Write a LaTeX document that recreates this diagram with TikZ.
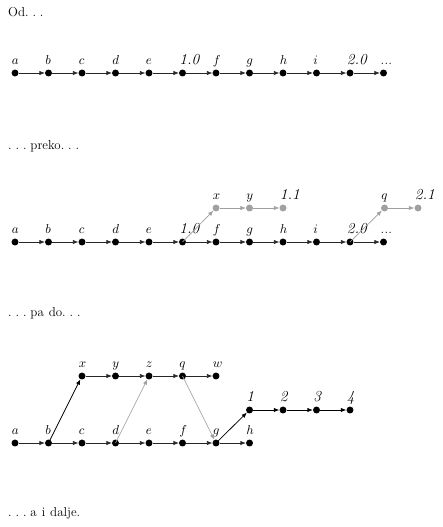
\documentclass[tikz,border=0pt]{standalone}
\usetikzlibrary{arrows.meta}
\definecolor{lg}{RGB}{160,160,160}
\newcommand{\mydots}{\mbox{.\kern3.3pt.\kern3.3pt.\kern3.3pt}}
\newcommand{\nl}[1]{{\fontsize{13}{15}\selectfont\textit{#1}}}
\newcommand{\wsp}{\spaceskip=4.2pt\relax}
\begin{document}
\begin{tikzpicture}[x=0.849pt,y=-0.849pt,
  font=\fontsize{11}{13.5}\selectfont,
  lbl/.style={anchor=base west,inner sep=0pt,outer sep=0pt,xshift=-2.6pt,yshift=6.8pt},
  dot/.style={circle,fill=black,inner sep=0pt,minimum size=5.9pt},
  gdot/.style={dot,fill=lg},
  txt/.style={anchor=west,inner sep=0pt},
  edge/.style={-{Latex[length=4.5pt,width=3.6pt]},line width=0.5pt,draw=black!85},
  bedge/.style={edge,line width=0.65pt,draw=black},
  gedge/.style={edge,draw=lg,fill=lg,line width=0.55pt}]
\useasboundingbox (0,0) rectangle (442,527);

% ---- texts
\node[txt] (t1) at (8,12) {Od\mydots};
\node[txt] (t2) at (8,146) {\mydots preko\mydots};
\node[txt] (t3) at (8,313) {\wsp\mydots pa do\mydots};
\node[txt] (t4) at (8,513) {\wsp\mydots a i dalje.};

% ---- diagram 1
\foreach \t [count=\i from 0] in {$a$,$b$,$c$,$d$,$e$,\nl{1.0},$f$,$g$,$h$,$i$,\nl{2.0},\textit{...}}{
  \node[dot] (A\i) at (15+33.5*\i,73) {};
  \node[lbl] (LA\i) at (A\i.center) {\t};
}
\foreach \i [evaluate=\i as \j using int(\i+1)] in {0,...,10}
  \draw[edge] (A\i) -- (A\j);

% ---- diagram 2
\foreach \t [count=\i from 0] in {$a$,$b$,$c$,$d$,$e$,\nl{1.0},$f$,$g$,$h$,$i$,\nl{2.0},\textit{...}}{
  \node[dot] (B\i) at (15+33.5*\i,242) {};
  \node[lbl] (LB\i) at (B\i.center) {\t};
}
\foreach \i [evaluate=\i as \j using int(\i+1)] in {0,...,10}
  \draw[edge] (B\i) -- (B\j);
\foreach \n/\t/\x in {x/$x$/216, y/$y$/249.5, p/\nl{1.1}/283, q/$q$/384.5, r/\nl{2.1}/418}{
  \node[gdot] (G\n) at (\x,208) {};
  \node[lbl] (LG\n) at (G\n.center) {\t};
}
\draw[gedge] (B5.center) -- (Gx);
\draw[gedge] (Gx) -- (Gy);
\draw[gedge] (Gy) -- (Gp);
\draw[gedge] (B10.center) -- (Gq);
\draw[gedge] (Gq) -- (Gr);

% ---- diagram 3
\foreach \t [count=\i from 0] in {$a$,$b$,$c$,$d$,$e$,$f$,$g$,$h$}{
  \node[dot] (C\i) at (15+33.5*\i,443) {};
  \node[lbl] (LC\i) at (C\i.center) {\t};
}
\foreach \i [evaluate=\i as \j using int(\i+1)] in {0,...,6}
  \draw[edge] (C\i) -- (C\j);
\foreach \t [count=\i from 0] in {$x$,$y$,$z$,$q$,$w$}{
  \node[dot] (U\i) at (82+33.5*\i,376) {};
  \node[lbl] (LU\i) at (U\i.center) {\t};
}
\foreach \i [evaluate=\i as \j using int(\i+1)] in {0,...,3}
  \draw[edge] (U\i) -- (U\j);
\foreach \t [count=\i from 0] in {\nl{1},\nl{2},\nl{3},\nl{4}}{
  \node[dot] (M\i) at (249.5+33.5*\i,410) {};
  \node[lbl] (LM\i) at (M\i.center) {\t};
}
\foreach \i [evaluate=\i as \j using int(\i+1)] in {0,...,2}
  \draw[bedge] (M\i) -- (M\j);
\draw[bedge] (C1.center) -- (U0);
\draw[gedge] (C3.center) -- (U2);
\draw[gedge] (U3.center) -- (C6);
\draw[bedge] (C6.center) -- (M0);
\end{tikzpicture}
\end{document}
